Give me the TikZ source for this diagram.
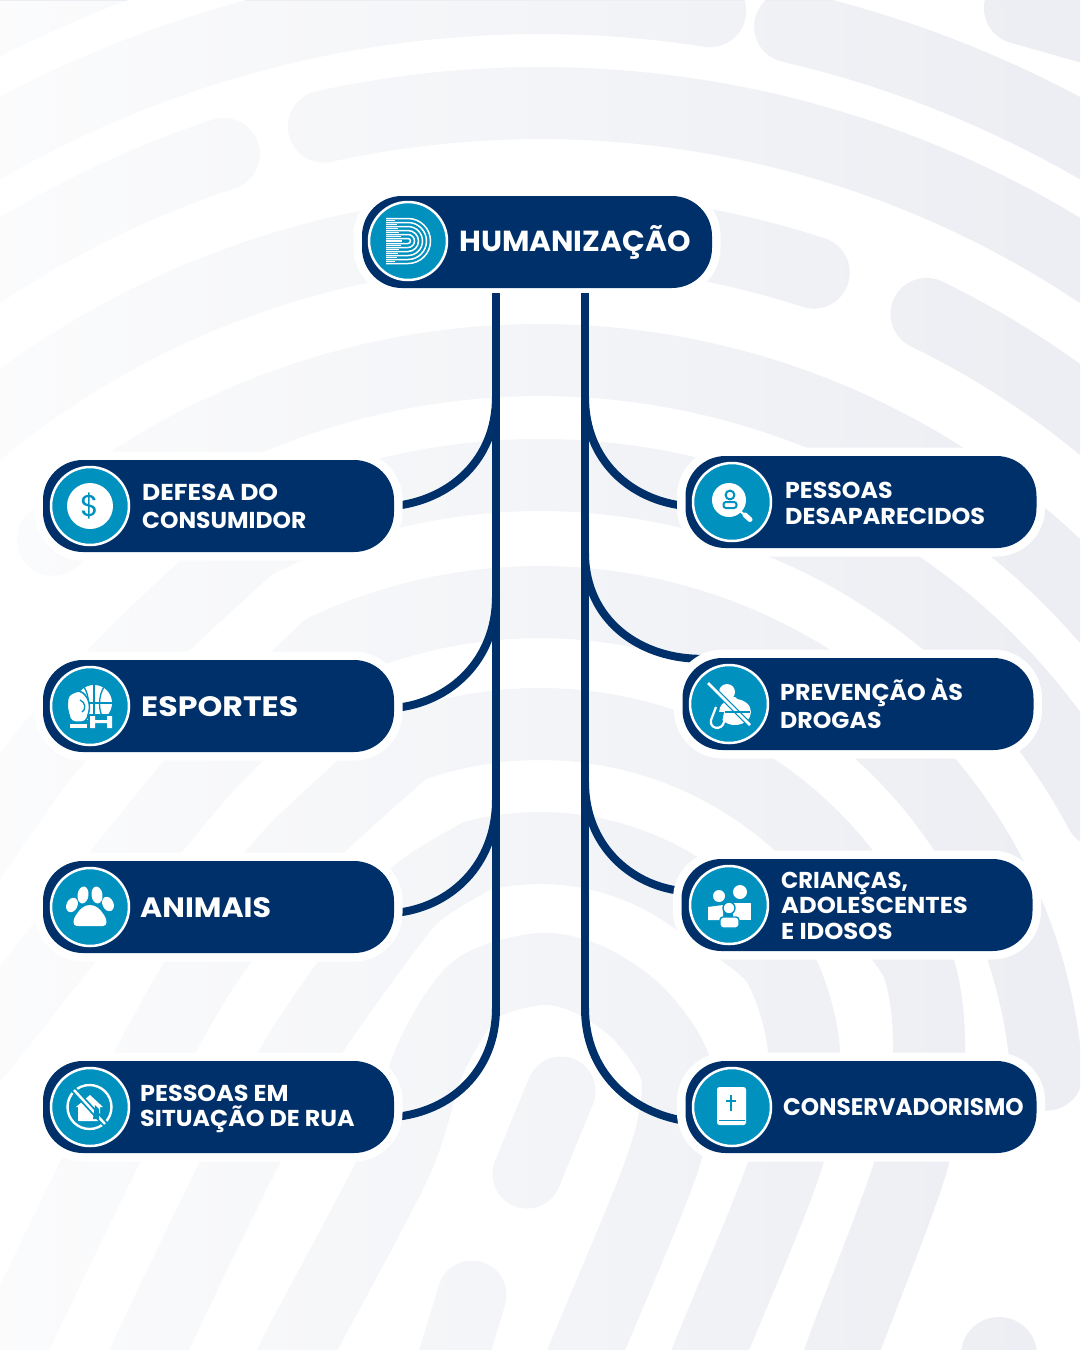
\documentclass[tikz,border=0pt]{standalone}
\usepackage{fontspec}
\setmainfont{Poppins}
\usetikzlibrary{fadings}
\definecolor{navy}{HTML}{00306A}
\definecolor{teal1}{HTML}{0091BF}
\definecolor{bandc}{HTML}{ECEEF3}
\pgfdeclarelayer{bgl}
\pgfsetlayers{bgl,main}
\tikzfading[name=bgfade,left color=transparent!20,right color=transparent!100]
\newcommand\RR[3]{plot[domain=#2:#3,samples=70] ({540+#1*sin(\x)},{1110-#1*cos(\x)})}
\newcommand\sx[2]{\scalebox{#1}[1]{#2}}
\tikzset{
 band/.style={draw=bandc,line width=72pt,line cap=round,line join=round},
 conn/.style={draw=navy,line width=8pt},
 pill/.style={rectangle,rounded corners=40pt,fill=navy,minimum width=351pt,minimum height=92pt,inner sep=0pt,
   preaction={draw=white,line width=17pt}},
 badge/.style={circle,fill=teal1,draw=white,line width=2.5pt,minimum size=78pt,inner sep=0pt},
 lab/.style={anchor=west,text=white,align=left,inner sep=0pt,font=\bfseries},
}
\begin{document}
\begin{tikzpicture}[x=1pt,y=-1pt]
\useasboundingbox (0,0) rectangle (1080,1350);
\begin{pgfonlayer}{bgl}
\fill[white] (0,0) rectangle (1080,1350);
\begin{scope}
\clip (0,0) rectangle (1080,1350);
\draw[band] \RR{1220}{-35}{-18};
\draw[band] \RR{1112}{-35}{8.8};
\draw[band] \RR{1112}{13}{40};
\draw[band] \RR{1007}{-35}{-18.3};
\draw[band] \RR{1007}{-12.4}{40};
\draw[band] \RR{881}{-45}{18.1};
\draw[band] \RR{885}{25.9}{50};
\draw[band] \RR{750}{-40.5}{50};
\draw[band] plot[smooth] coordinates {(-30,860) (40,760) (135,653) (252,544)} -- plot[domain=-27:62,samples=70] ({540+635*sin(\x)},{1110-635*cos(\x)});
\draw[band] plot[smooth] coordinates {(-20,1050) (50,961) (135,853) (213,760) (325,650)} -- plot[domain=-25:86,samples=70] ({540+508*sin(\x)},{1110-508*cos(\x)});
\draw[band] plot[smooth] coordinates {(-10,1395) (10,1348) (100,1162) (155,1052) (208,961) (292,853) (408,747)} -- plot[domain=-20:55,samples=70] ({540+386*sin(\x)},{1110-386*cos(\x)}) -- plot[smooth] coordinates {(856,889) (916,961) (929,1052) (912,1162) (843,1348) (825,1400)};
\draw[band] plot[smooth] coordinates {(130,1400) (150,1348) (240,1162) (300,1052) (363,961) (415,895) (477,856)} -- plot[domain=-14:40,samples=70] ({540+262*sin(\x)},{1110-262*cos(\x)}) -- plot[smooth] coordinates {(708,909) (776,961) (804,1052) (786,1162) (711,1348) (690,1400)};
\draw[band] plot[smooth] coordinates {(275,1400) (298,1348) (396,1162) (430,1060) (475,990) (540,969) (590,980) (640,1015) (677,1075) (663,1162) (587,1348) (565,1400)};
\draw[band,line width=69pt] (561,1091) -- (527,1174);
\draw[band,line width=69pt] (472,1295) -- (440,1400);
\draw[band,line width=76pt] (999,1355) -- (985,1420);
\draw[band] (1020,8) -- (1130,39);
\fill[white,path fading=bgfade] (0,0) rectangle (1080,1350);
\end{scope}
\end{pgfonlayer}

% boxes
\node[pill,minimum width=350pt] (hum) at (537,242) {};
\node[pill] (b1) at (218.5,506) {};
\node[pill] (b2) at (218.5,706) {};
\node[pill] (b3) at (218.5,907) {};
\node[pill] (b4) at (218.5,1107) {};
\node[pill] (c1) at (861,502) {};
\node[pill] (c2) at (858,704) {};
\node[pill] (c3) at (857,905) {};
\node[pill] (c4) at (861,1107) {};
% badges
\node[badge] (ih) at (408,241) {};
\node[badge] (i1) at (90,506) {};
\node[badge] (i2) at (90,706) {};
\node[badge] (i3) at (90,907) {};
\node[badge] (i4) at (90,1107) {};
\node[badge] (j1) at (732,502) {};
\node[badge] (j2) at (729,704) {};
\node[badge] (j3) at (729,905) {};
\node[badge] (j4) at (732,1107) {};
% labels
\node[lab,font=\bfseries\fontsize{29}{32}\selectfont] (th) at (459,242.5) {\sx{1.03}{HUMANIZAÇÃO}};
\node[lab,font=\bfseries\fontsize{23}{28}\selectfont] (t1) at (142,506) {\sx{1.088}{DEFESA DO}\\\sx{1.02}{CONSUMIDOR}};
\node[lab,font=\bfseries\fontsize{28}{32}\selectfont] (t2) at (141,707) {\sx{1.13}{ESPORTES}};
\node[lab,font=\bfseries\fontsize{28}{32}\selectfont] (t3) at (140,908) {\sx{1.075}{ANIMAIS}};
\node[lab,font=\bfseries\fontsize{23}{24.5}\selectfont] (t4) at (140,1109) {\sx{1.04}{PESSOAS EM}\\\sx{1.034}{SITUAÇÃO DE RUA}};
\node[lab,font=\bfseries\fontsize{23}{26}\selectfont] (u1) at (785,503) {\sx{1.03}{PESSOAS}\\\sx{1.04}{DESAPARECIDOS}};
\node[lab,font=\bfseries\fontsize{23}{28}\selectfont] (u2) at (780,703) {\sx{1.034}{PREVENÇÃO ÀS}\\\sx{1.03}{DROGAS}};
\node[lab,font=\bfseries\fontsize{23}{25.5}\selectfont] (u3) at (781,905.5) {\sx{0.985}{CRIANÇAS,}\\\sx{1.056}{ADOLESCENTES}\\\sx{1.057}{E IDOSOS}};
\node[lab,font=\bfseries\fontsize{24}{28}\selectfont] (u4) at (783,1107) {\sx{0.968}{CONSERVADORISMO}};

% trunks
\draw[conn] ([xshift=-41pt,yshift=-5pt]hum.south) coordinate (ls) -- (496,1012) coordinate (lend);
\draw[conn] ([xshift=48pt,yshift=-5pt]hum.south) coordinate (rs) -- (585,1012) coordinate (rend);
\coordinate (l1) at (496,397); \coordinate (l2) at (496,597); \coordinate (l3) at (496,800); \coordinate (l4) at (496,1008);
\coordinate (r1) at (585,397); \coordinate (r2) at (585,553); \coordinate (r3) at (585,782); \coordinate (r4) at (585,1008);
\begin{pgfonlayer}{bgl}
\draw[conn] (l1) .. controls (496,460) and (450,500) .. ([yshift=0pt]b1.east);
\draw[conn] (l2) .. controls (496,660) and (450,703) .. ([yshift=-2pt]b2.east);
\draw[conn] (l3) .. controls (496,865) and (450,908) .. ([yshift=-6pt]b3.east);
\draw[conn] (l4) .. controls (496,1072) and (450,1112) .. ([yshift=-10pt]b4.east);
\draw[conn] (r1) .. controls (585,460) and (630,500) .. ([yshift=-4pt]c1.west);
\draw[conn] (r2) .. controls (585,620) and (640,660) .. ([xshift=22pt,yshift=-1pt]c2.north west);
\draw[conn] (r3) .. controls (585,845) and (630,885) .. ([yshift=14pt]c3.west);
\draw[conn] (r4) .. controls (585,1072) and (630,1112) .. ([yshift=-14pt]c4.west);
\end{pgfonlayer}

% logo
\begin{scope}[line width=1.5pt,white]
\foreach \r in {22.5,18.5,14.5,10.5,6.5,2.5}{
 \draw (386,241-\r) -- (408,241-\r) arc[start angle=-90,end angle=90,radius=\r] -- (386,241+\r);
}
\foreach \r in {20.5,16.5,12.5,8.5,4.5,0.5}{
 \draw (386,241-\r) -- (402-\r/3,241-\r);
 \draw (386,241+\r) -- (402-\r/3,241+\r);
}
\end{scope}

% dollar
\fill[white] (90,506) circle (23);
\node[inner sep=0pt,text=teal1,font=\fontsize{30}{30}\selectfont] (dol) at (90,506) {\$};

% sports
\fill[white] (94,703) circle (18);
\draw[teal1,line width=1.3pt] (94,685) -- (94,721) (76,703) -- (112,703);
\draw[teal1,line width=1.3pt] (84,687) .. controls (90,696) and (90,712) .. (84,719);
\draw[teal1,line width=1.3pt] (104,687) .. controls (98,696) and (98,712) .. (104,719);
\fill[teal1] (88,714) rectangle (114,729);
\fill[white,draw=teal1,line width=1.5pt,rounded corners=4pt] (68,695) -- (80,690) -- (88,698) -- (90,708) -- (86,722) -- (71,722) -- (67,708) -- cycle;
\fill[white] (70,724) rectangle (87,728);
\draw[teal1,line width=1.3pt] (80,700) .. controls (86,702) and (86,710) .. (82,712);
\fill[white] (90,716) rectangle (95,728) (107,716) rectangle (112,728) (95,720) rectangle (107,723);

% paw
\fill[white,rotate around={-25:(72,905)}] (72,905) ellipse (5.5 and 7.5);
\fill[white,rotate around={-8:(83,895)}] (83,895) ellipse (5.5 and 8.5);
\fill[white,rotate around={8:(97,895)}] (97,895) ellipse (5.5 and 8.5);
\fill[white,rotate around={25:(108,904)}] (108,904) ellipse (5.5 and 7.5);
\fill[white] (77,926) .. controls (72,926) and (73,919) .. (76,915) .. controls (80,909) and (84,905) .. (90,905) .. controls (96,905) and (100,909) .. (104,915) .. controls (107,919) and (108,926) .. (103,926) -- cycle;

% no home
\draw[white,line width=2.4pt] (89.5,1107) circle (22);
\fill[white] (90,1095) -- (103,1107) -- (100,1107) -- (100,1121) -- (78,1121) -- (78,1107) -- (76,1107) -- cycle;
\draw[teal1,line width=6pt] (73,1089) -- (106,1125);
\draw[white,line width=2.4pt] (74,1090) -- (105,1124);
\fill[teal1] (95,1105) -- (99,1109) -- (99,1119) -- (93,1119) -- cycle;

% search person
\draw[white,line width=2pt] (740,511) -- (746,516);
\draw[white,line width=5pt,line cap=round] (745,515) -- (750,519.5);
\fill[white] (729,500) circle (17);
\draw[teal1,line width=2pt] (730,495) circle (4.4);
\draw[teal1,line width=2pt,rounded corners=2.5pt] (723.5,508) -- (723.5,502) -- (736.5,502) -- (736.5,508) -- cycle;

% no drugs
\fill[white] (727,692) circle (8);
\fill[white] (735,712) ellipse (16 and 13);
\fill[white] (722,697) -- (735,697) -- (748,708) -- (730,720) -- cycle;
\fill[teal1] (714,712) -- (724,712) -- (722,722) -- (714,726) -- cycle;
\draw[white,line width=2.2pt] (716,707) -- (711,720) .. controls (709,729) and (722,731) .. (724,722) -- (727,713);
\draw[teal1,line width=5pt] (706,681) -- (752,727);
\draw[white,line width=2.6pt] (708,683) -- (750,725);
\draw[teal1,line width=1.6pt] (725,712) -- (750,712);

% people
\fill[white] (708,907) -- (723,905) -- (723,920) -- (708,920) -- cycle;
\fill[white] (733,903) -- (751,903) -- (751,920) -- (733,920) -- cycle;
\fill[white] (719,896) circle (6);
\fill[white] (740,892) circle (7);
\draw[teal1,line width=1.4pt,fill=white] (729,908) circle (6);
\draw[teal1,line width=1.4pt,fill=white,rounded corners=3pt] (720,928) -- (720,917) -- (739,917) -- (739,928) -- cycle;

% bible
\fill[white,rounded corners=2.5pt] (717,1087) rectangle (746,1125);
\draw[teal1,line width=2pt] (731,1095) -- (731,1111) (726,1101) -- (736,1101);
\draw[teal1,line width=1.4pt] (719,1120.5) -- (745,1120.5);
\end{tikzpicture}
\end{document}
